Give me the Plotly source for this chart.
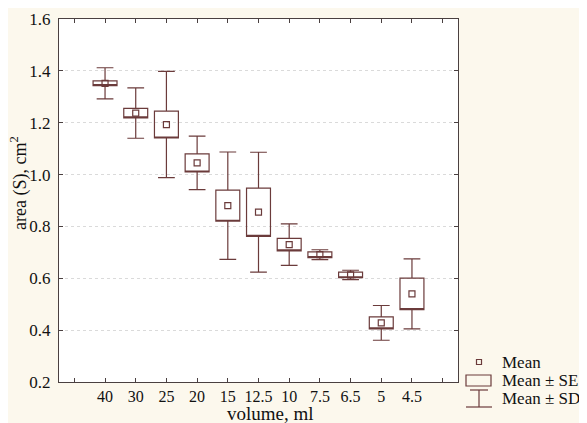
import plotly.graph_objects as go

# ---- data ----
categories = ["40", "30", "25", "20", "15", "12.5", "10", "7.5", "6.5", "5", "4.5"]
means = [1.352, 1.237, 1.193, 1.045, 0.880, 0.855, 0.730, 0.691, 0.613, 0.428, 0.540]
se    = [0.009, 0.018, 0.052, 0.035, 0.060, 0.093, 0.024, 0.011, 0.011, 0.023, 0.061]
sd    = [0.060, 0.097, 0.205, 0.103, 0.207, 0.231, 0.080, 0.019, 0.018, 0.067, 0.135]

y_ticks = [0.2, 0.4, 0.6, 0.8, 1.0, 1.2, 1.4, 1.6]

# ---- style ----
OFF = 8  # page body margin in the browser
W, H = 587 - OFF, 423 - OFF
ML, MR, MT, MB = 59 - OFF, 129, 19 - OFF, 41
PW, PH = W - ML - MR, H - MT - MB
LINE = "#6b3b3b"
AXIS = "#4a4040"
BG = "#fcf8ed"
FONT = "'Times New Roman', 'Liberation Serif', Times, serif"

xpos = list(range(1, len(categories) + 1))
edge_ticks = [0, len(categories) + 1]

q1 = [m - s for m, s in zip(means, se)]
q3 = [m + s for m, s in zip(means, se)]
lo = [m - d for m, d in zip(means, sd)]
hi = [m + d for m, d in zip(means, sd)]

fig = go.Figure()
fig.add_trace(go.Box(
    x=xpos, q1=q1, median=q1, q3=q3, lowerfence=lo, upperfence=hi,
    width=0.78, whiskerwidth=0.7, boxpoints=False,
    line=dict(color=LINE, width=1.2), fillcolor="rgba(255,255,255,0)",
    showlegend=False, hoverinfo="skip",
))
fig.add_trace(go.Scatter(
    x=xpos, y=means, mode="markers",
    marker=dict(symbol="square-open", size=6, color=LINE, line=dict(width=1.2, color=LINE)),
    showlegend=False, hoverinfo="skip",
))


# screen-pixel -> paper helpers (screen pixels include the body margin)
def px_x(p):
    return (p - OFF - ML) / PW


def px_y(p):
    return (MT + PH - (p - OFF)) / PH


shapes = []
# legend: Mean marker
shapes.append(dict(type="rect", xref="paper", yref="paper",
                   x0=px_x(476.5), x1=px_x(481.5), y0=px_y(359.5), y1=px_y(364.5),
                   line=dict(color=LINE, width=1.2)))
# legend: SE box
shapes.append(dict(type="rect", xref="paper", yref="paper",
                   x0=px_x(466), x1=px_x(491), y0=px_y(375), y1=px_y(386),
                   line=dict(color=LINE, width=1.2)))
# legend: SD whisker
for (x0, y0, x1, y1) in [(470, 390, 488, 390), (479, 390, 479, 407), (466, 407, 492, 407)]:
    shapes.append(dict(type="line", xref="paper", yref="paper",
                       x0=px_x(x0), x1=px_x(x1), y0=px_y(y0), y1=px_y(y1),
                       line=dict(color=LINE, width=1.2)))

annotations = []
for label, yy in [("Mean", 362), ("Mean ± SE", 380), ("Mean ± SD", 398)]:
    annotations.append(dict(text=label, xref="paper", yref="paper",
                            x=px_x(500), y=px_y(yy), xanchor="left", yanchor="middle",
                            showarrow=False, font=dict(family=FONT, size=17, color="#111")))
annotations.append(dict(text="volume, ml", xref="paper", yref="paper",
                        x=px_x(270), y=px_y(413), xanchor="center", yanchor="middle",
                        showarrow=False, font=dict(family=FONT, size=19, color="#111")))
annotations.append(dict(text="area (S), cm<sup>2</sup>", xref="paper", yref="paper",
                        x=px_x(19), y=px_y(183), xanchor="center", yanchor="middle",
                        textangle=-90, showarrow=False,
                        font=dict(family=FONT, size=18, color="#111")))

fig.update_layout(
    width=W, height=H,
    margin=dict(l=ML, r=MR, t=MT, b=MB, pad=0, autoexpand=False),
    paper_bgcolor=BG, plot_bgcolor="white",
    font=dict(family=FONT, size=17, color="#111"),
    shapes=shapes, annotations=annotations,
    showlegend=False,
    xaxis=dict(range=[-0.5, len(categories) + 1.5], tickmode="array",
               tickvals=xpos, ticktext=categories, automargin=False,
               ticks="inside", ticklen=4, tickcolor=AXIS, tickwidth=1,
               minor=dict(tickmode="array", tickvals=edge_ticks, ticks="inside",
                          ticklen=4, tickcolor=AXIS, tickwidth=1, showgrid=False),
               showline=True, linecolor=AXIS, linewidth=1.3, mirror="ticks",
               showgrid=False, zeroline=False, ticklabelstandoff=0,
               tickfont=dict(family=FONT, size=16, color="#111")),
    yaxis=dict(range=[0.2, 1.6], tickmode="array", tickvals=y_ticks,
               ticktext=[f"{v:.1f}" for v in y_ticks], automargin=False,
               ticks="inside", ticklen=4, tickcolor=AXIS, tickwidth=1,
               showline=True, linecolor=AXIS, linewidth=1.3, mirror="ticks",
               showgrid=True, gridcolor="#dadada", griddash="dot", gridwidth=1,
               zeroline=False, ticklabelstandoff=4,
               tickfont=dict(family=FONT, size=17, color="#111")),
)

fig.write_html("out.html")
